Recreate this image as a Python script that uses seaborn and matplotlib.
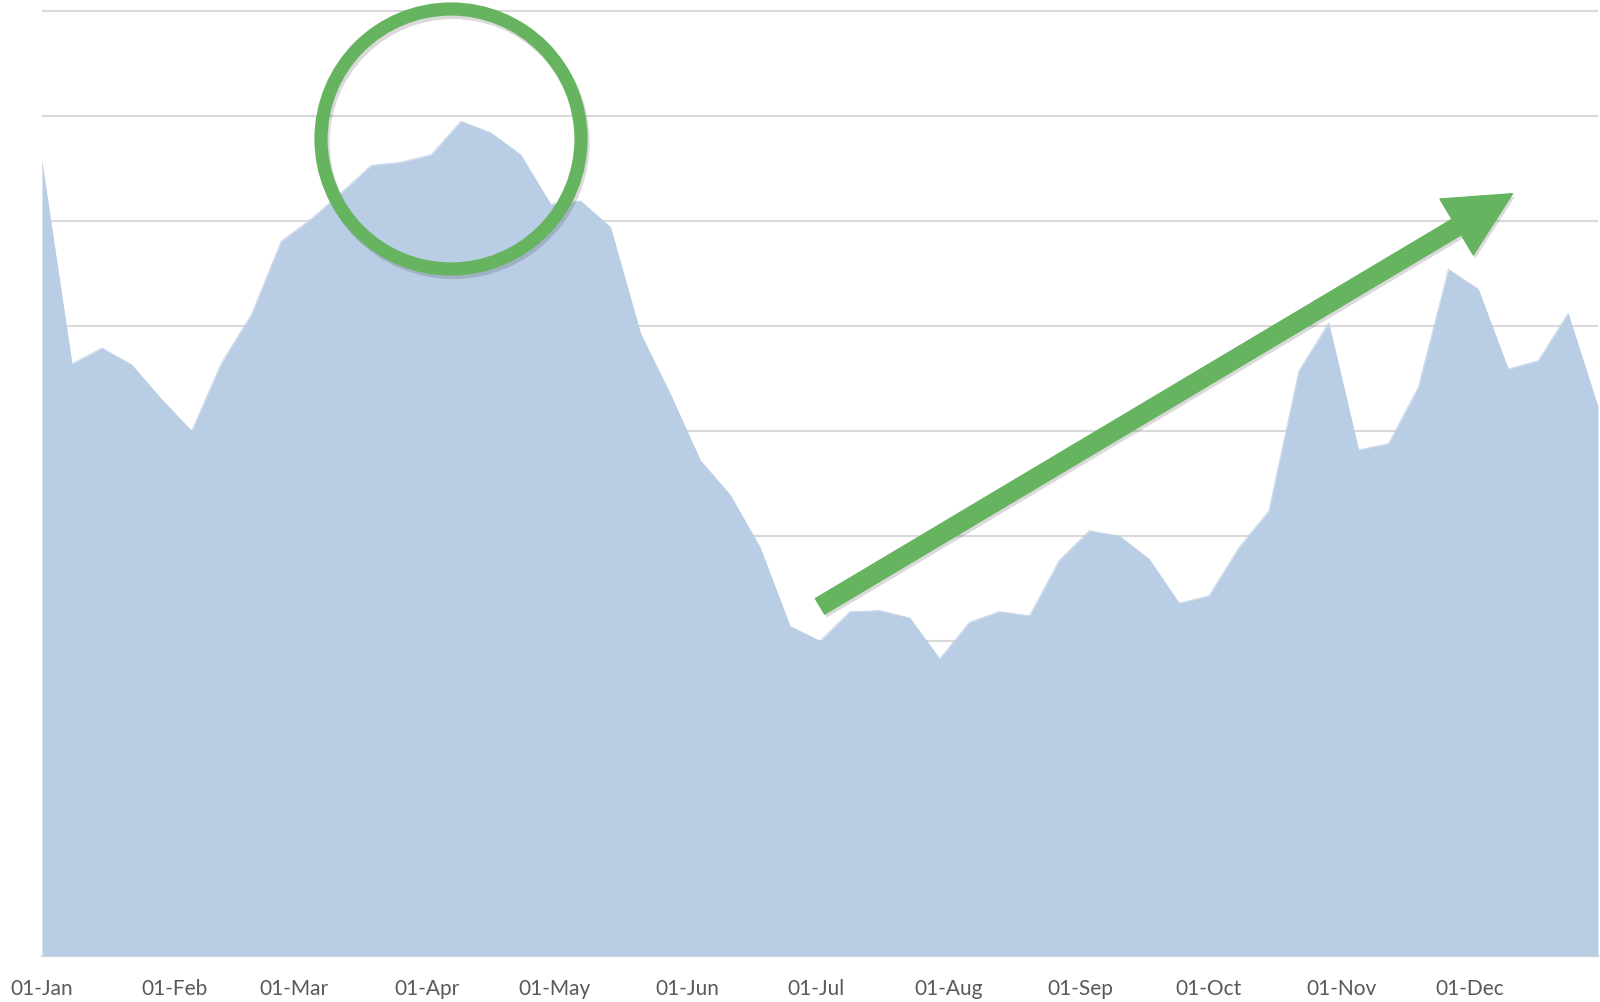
import numpy as np
import pandas as pd
import matplotlib
matplotlib.use("Agg")
import matplotlib.pyplot as plt
import matplotlib.dates as mdates
import matplotlib.patheffects as pe
from matplotlib.patches import Ellipse
import seaborn as sns

# ---- data ----
start_date = "2019-01-01"
n_weeks = 53
values = [75.6, 56.4, 57.9, 56.3, 53.0, 50.0, 56.5, 61.1, 68.1, 70.2,
          72.7, 75.3, 75.6, 76.3, 79.5, 78.4, 76.3, 71.6, 71.9, 69.4,
          59.3, 53.5, 47.2, 43.9, 38.9, 31.4, 30.0, 32.8, 32.9, 32.2,
          28.3, 31.8, 32.8, 32.4, 37.7, 40.5, 40.0, 37.8, 33.6, 34.3,
          38.9, 42.4, 55.7, 60.3, 48.2, 48.8, 54.2, 65.4, 63.5, 55.9,
          56.7, 61.2, 52.3]
month_ticks = pd.date_range("2019-01-01", "2019-12-01", freq="MS")
y_grid = list(range(0, 100, 10))

# arrow annotation (date, value)
arrow_tail = (pd.Timestamp("2019-07-02"), 33.3)
arrow_tip = (pd.Timestamp("2019-12-11"), 72.6)

dates = pd.date_range(start_date, periods=n_weeks, freq="7D")
df = pd.DataFrame({"date": dates, "value": values})

fill_color = "#B9CDE5"
green = "#66B360"

sns.set_theme(style="white")
plt.rcParams["font.family"] = ["Lato", "DejaVu Sans"]

W, H = 1600, 1003
fig = plt.figure(figsize=(W / 100, H / 100), dpi=100)
left, right = 42 / W, 1598 / W
bottom, top = 1 - 957 / H, 1 - 1.5 / H
ax = fig.add_axes([left, bottom, right - left, top - bottom])

sns.lineplot(data=df, x="date", y="value", ax=ax, color=fill_color, linewidth=0.5, zorder=3)
ax.fill_between(df["date"], 0, df["value"], color=fill_color, linewidth=0, zorder=3)

ax.set_xlim(dates[0], dates[-1])
ax.set_ylim(0, 91)
ax.set_yticks(y_grid)
ax.set_yticklabels([])
ax.yaxis.grid(True, color="#D9D9D9", linewidth=1.5, zorder=1)
ax.tick_params(axis="y", length=0)
ax.set_xticks(month_ticks)
ax.xaxis.set_major_formatter(mdates.DateFormatter("%d-%b"))
ax.tick_params(axis="x", length=0, labelsize=15, colors="#595959", pad=16)
for s in ["top", "right", "left"]:
    ax.spines[s].set_visible(False)
ax.spines["bottom"].set_color("#D9D9D9")
ax.spines["bottom"].set_linewidth(1.5)
ax.set_xlabel("")
ax.set_ylabel("")

# circle highlighting the spring peak
ax_w_px = (right - left) * W
ax_h_px = (top - bottom) * H
r_px = 130
circ = Ellipse(((451 - 42) / ax_w_px, (957 - 140) / ax_h_px),
               width=2 * r_px / ax_w_px, height=2 * r_px / ax_h_px,
               transform=ax.transAxes, fill=False, edgecolor=green,
               linewidth=9.5, zorder=5, clip_on=False)
circ.set_path_effects([pe.SimpleLineShadow(offset=(1.5, -2.5), alpha=0.18, shadow_color="#333333"), pe.Normal()])
ax.add_patch(circ)

# trend arrow
ann = ax.annotate("", xy=arrow_tip, xytext=arrow_tail,
                  arrowprops=dict(arrowstyle="simple,head_length=3.6,head_width=3.6,tail_width=1",
                                  mutation_scale=13, color=green, shrinkA=0, shrinkB=0),
                  zorder=6)
ann.arrow_patch.set_path_effects([pe.SimplePatchShadow(offset=(1.5, -2.5), alpha=0.18, shadow_rgbFace="#333333"), pe.Normal()])

fig.savefig("out.png", dpi=100)
